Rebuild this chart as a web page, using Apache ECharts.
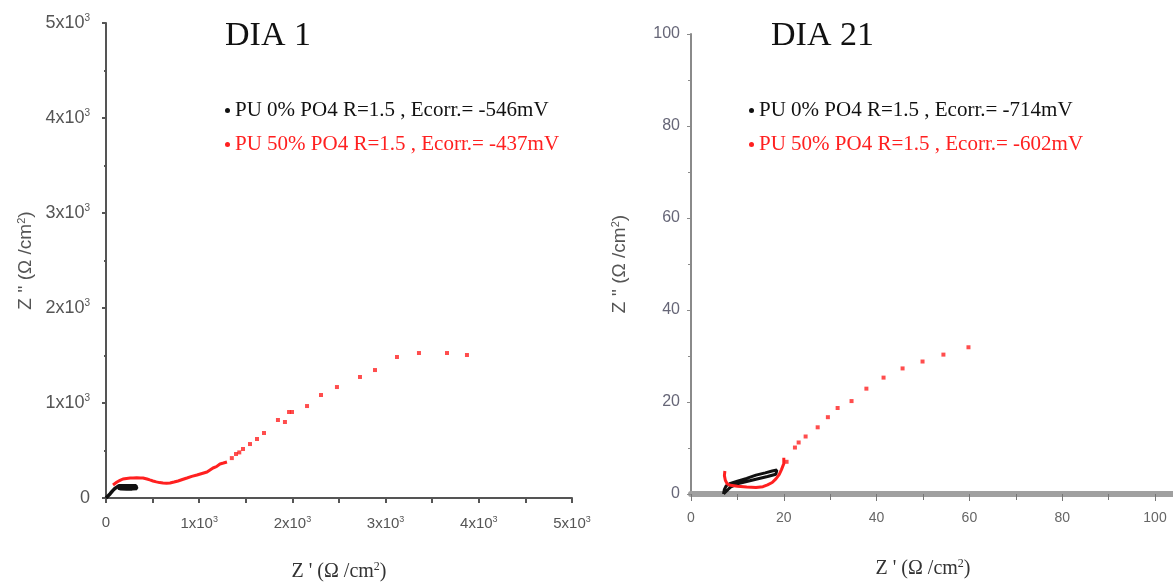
<!DOCTYPE html>
<html>
  <head>
    <meta charset="UTF-8" />
    <title>DIA Nyquist</title>
    <script src="https://cdn.jsdelivr.net/npm/echarts@6/dist/echarts.min.js"></script>
    <style>
      html, body { margin: 0; padding: 0; background: #fff; }
      #chart { width: 1173px; height: 585px; }
    </style>
  </head>
  <body>
    <div id="chart"></div>
    <script>
      // series names
      var nameL0 = 'PU 0% PO4 R=1.5 , Ecorr.= -546mV';
      var nameL50 = 'PU 50% PO4 R=1.5 , Ecorr.= -437mV';
      var nameR0 = 'PU 0% PO4 R=1.5 , Ecorr.= -714mV';
      var nameR50 = 'PU 50% PO4 R=1.5 , Ecorr.= -602mV';

      // DIA 1 (Z', Z'')
      var dia1Black = [[0, 0], [20, 20], [45, 45], [70, 75], [95, 100], [115, 120], [140, 128], [180, 130], [230, 130], [280, 130], [320, 128], [340, 115], [330, 100], [280, 96], [220, 96], [160, 98], [130, 105]];
      var dia1RedDense = [[75, 137], [95, 150], [118, 168], [150, 185], [182, 200], [220, 206], [260, 210], [290, 211], [330, 212], [370, 211], [397, 211], [440, 200], [470, 190], [504, 179], [540, 170], [575, 162], [612, 158], [650, 156], [687, 158], [730, 168], [773, 179], [820, 195], [869, 211], [920, 228], [976, 242], [1030, 258], [1084, 274], [1148, 316], [1185, 330], [1223, 358], [1260, 368], [1298, 379]];
      var dia1RedTail = [[1350, 420], [1395, 463], [1430, 480], [1470, 516], [1545, 568], [1620, 621], [1695, 684], [1845, 821], [1920, 800], [1964, 905], [1996, 905], [2157, 968], [2307, 1084], [2478, 1168], [2725, 1274], [2886, 1347], [3122, 1484], [3358, 1526], [3659, 1526], [3873, 1505]];

      // DIA 21 (Z', Z'')
      var dia21Black = [[7, 0], [7.2, 1], [7.6, 1.8], [8.5, 2.3], [10, 2.8], [12, 3.4], [14, 4.1], [16, 4.6], [17.5, 5], [18.5, 5.2], [18.3, 4.3], [16.5, 3.8], [14, 3.2], [12, 2.7], [10, 2.2], [8.5, 1.5], [7.5, 0.5], [7, 0]];
      var dia21RedDense = [[7.3, 5], [7.2, 4], [7.4, 3], [7.8, 2.2], [8.5, 1.9], [10, 1.7], [12, 1.5], [14, 1.4], [15.5, 1.6], [16.5, 2], [17.5, 2.5], [18.3, 3.3], [19, 4.2], [19.5, 5.3], [20, 6.6], [20, 7.9]];
      var dia21RedTail = [[20.6, 7], [22.4, 10.1], [23.2, 11.2], [24.7, 12.5], [27.3, 14.5], [29.5, 16.7], [31.6, 18.7], [34.6, 20.2], [37.8, 22.9], [41.5, 25.3], [45.6, 27.3], [49.9, 28.8], [54.4, 30.3], [59.8, 31.9]];

      var chart = echarts.init(document.getElementById('chart'));

      var expLabel = function (v) {
        if (v === 0) return '0';
        return v / 1000 + 'x10{s|3}';
      };
      var serifName = { fontFamily: 'Liberation Serif', fontSize: 20, color: '#333', rich: { s: { fontSize: 12, padding: [0, 0, 9, 0], fontFamily: 'Liberation Serif', color: '#333' } } };
      var sansName = { fontFamily: 'Liberation Sans', fontSize: 19, color: '#555', rich: { s: { fontSize: 11, padding: [0, 0, 9, 0], fontFamily: 'Liberation Sans', color: '#555' } } };

      var option = {
        animation: false,
        title: [
          { text: 'DIA 1', left: 220, top: 14, textStyle: { fontFamily: 'Liberation Serif', fontSize: 34, fontWeight: 'normal', color: '#111' } },
          { text: 'DIA 21', left: 766, top: 14, textStyle: { fontFamily: 'Liberation Serif', fontSize: 34, fontWeight: 'normal', color: '#111' } }
        ],
        legend: [
          {
            left: 220, top: 95, orient: 'vertical', itemGap: 13, itemWidth: 5, itemHeight: 5, selectedMode: false,
            textStyle: { fontFamily: 'Liberation Serif', fontSize: 21 },
            data: [
              { name: nameL0, icon: 'circle', textStyle: { color: '#111' } },
              { name: nameL50, icon: 'circle', textStyle: { color: '#ff2020' } }
            ]
          },
          {
            left: 744, top: 95, orient: 'vertical', itemGap: 13, itemWidth: 5, itemHeight: 5, selectedMode: false,
            textStyle: { fontFamily: 'Liberation Serif', fontSize: 21 },
            data: [
              { name: nameR0, icon: 'circle', textStyle: { color: '#111' } },
              { name: nameR50, icon: 'circle', textStyle: { color: '#ff2020' } }
            ]
          }
        ],
        grid: [
          { left: 106, right: 601, top: 23, bottom: 87, outerBoundsMode: 'none' },
          { left: 691, right: 18, top: 34, bottom: 91, outerBoundsMode: 'none' }
        ],
        xAxis: [
          {
            gridIndex: 0, type: 'value', min: 0, max: 5000, interval: 1000,
            name: "Z ' (Ω /cm{s|2})", nameLocation: 'middle', nameGap: 63, nameTextStyle: serifName,
            splitLine: { show: false },
            axisLine: { lineStyle: { color: '#555', width: 2 } },
            axisTick: { length: 5, lineStyle: { color: '#555', width: 2 } },
            minorTick: { show: true, splitNumber: 2, length: 5, lineStyle: { color: '#555', width: 2 } },
            axisLabel: { formatter: expLabel, rich: { s: { fontSize: 9, padding: [0, 0, 8, 0], color: '#555' } }, fontFamily: 'Liberation Sans', fontSize: 15, color: '#555', margin: 17 }
          },
          {
            gridIndex: 1, type: 'value', min: 0, max: 100, interval: 20,
            name: "Z ' (Ω /cm{s|2})", nameLocation: 'middle', nameGap: 64, nameTextStyle: serifName,
            splitLine: { show: false },
            axisLine: { lineStyle: { color: '#a0a0a0', width: 6 } },
            axisTick: { length: 7, lineStyle: { color: '#777', width: 1 } },
            minorTick: { show: true, splitNumber: 2, length: 6, lineStyle: { color: '#777', width: 1 } },
            axisLabel: { fontFamily: 'Liberation Sans', fontSize: 14, color: '#666', margin: 17 }
          }
        ],
        yAxis: [
          {
            gridIndex: 0, type: 'value', min: 0, max: 5000, interval: 1000,
            name: "Z '' (Ω /cm{s|2})", nameLocation: 'middle', nameGap: 70, nameTextStyle: sansName,
            splitLine: { show: false },
            axisLine: { lineStyle: { color: '#555', width: 2 } },
            axisTick: { length: 4, lineStyle: { color: '#555', width: 2 } },
            minorTick: { show: true, splitNumber: 2, length: 2, lineStyle: { color: '#555', width: 2 } },
            axisLabel: { formatter: expLabel, rich: { s: { fontSize: 10, padding: [0, 0, 9, 0], color: '#555' } }, fontFamily: 'Liberation Sans', fontSize: 18, color: '#555', margin: 16 }
          },
          {
            gridIndex: 1, type: 'value', min: 0, max: 100, interval: 20,
            name: "Z '' (Ω /cm{s|2})", nameLocation: 'middle', nameGap: 61, nameTextStyle: sansName,
            splitLine: { show: false },
            axisLine: { lineStyle: { color: '#8a8a8a', width: 2 } },
            axisTick: { length: 4, lineStyle: { color: '#8a8a8a', width: 1 } },
            minorTick: { show: true, splitNumber: 2, length: 3, lineStyle: { color: '#8a8a8a', width: 1 } },
            axisLabel: { fontFamily: 'Liberation Sans', fontSize: 16, color: '#667', margin: 11 }
          }
        ],
        graphic: [
          { type: 'rect', shape: { x: 1155, y: 491, width: 18, height: 6 }, style: { fill: '#a0a0a0' } }
        ],
        series: [
          { name: nameL0, type: 'line', xAxisIndex: 0, yAxisIndex: 0, data: dia1Black, showSymbol: false, color: '#111', lineStyle: { width: 3.5, color: '#111' } },
          { name: nameL50, type: 'line', xAxisIndex: 0, yAxisIndex: 0, data: dia1RedDense, showSymbol: false, color: '#ff2020', lineStyle: { width: 3, color: '#ff2020' } },
          { name: nameL50, type: 'scatter', xAxisIndex: 0, yAxisIndex: 0, data: dia1RedTail, symbol: 'rect', symbolSize: 4, itemStyle: { color: '#ff2020' } },
          { name: nameR0, type: 'line', xAxisIndex: 1, yAxisIndex: 1, data: dia21Black, showSymbol: false, color: '#111', lineStyle: { width: 3, color: '#111' } },
          { name: nameR50, type: 'line', xAxisIndex: 1, yAxisIndex: 1, data: dia21RedDense, showSymbol: false, color: '#ff2020', lineStyle: { width: 3, color: '#ff2020' } },
          { name: nameR50, type: 'scatter', xAxisIndex: 1, yAxisIndex: 1, data: dia21RedTail, symbol: 'rect', symbolSize: 4, itemStyle: { color: '#ff2020' } }
        ]
      };

      chart.setOption(option);
    </script>
  </body>
</html>
